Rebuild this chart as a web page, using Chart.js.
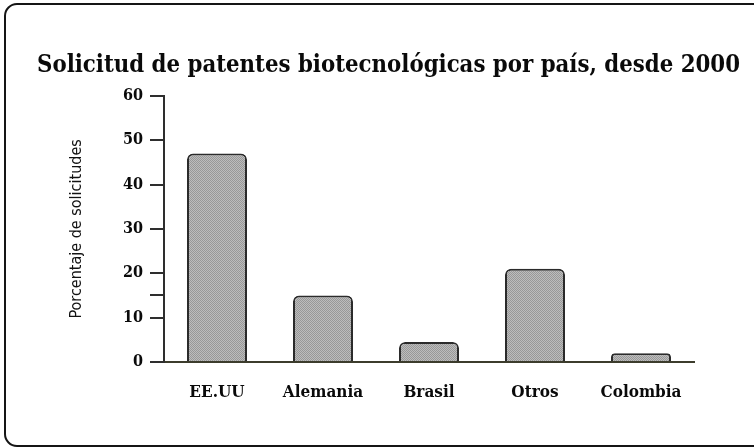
<!DOCTYPE html>
<html>
<head>
<meta charset="utf-8">
<script src="https://cdn.jsdelivr.net/npm/chart.js@4/dist/chart.umd.min.js"></script>
<style>
  html, body { margin: 0; padding: 0; background: #fff; }
  canvas { display: block; }
</style>
</head>
<body>
<canvas id="chart" width="754" height="447"></canvas>
<script>
// Biotech patent applications by country (share of total, %)
const categories = ['EE.UU', 'Alemania', 'Brasil', 'Otros', 'Colombia'];
const percentages = [47, 15, 4.5, 21, 2];
const yTickValues = [0, 10, 15, 20, 30, 40, 50, 60];
const yLabelStep = 10;
const chartTitle = 'Solicitud de patentes biotecnológicas por país, desde 2000';
const yAxisTitle = 'Porcentaje de solicitudes';

// Fine grey stipple used to fill the bars
function stipple(ctx) {
  const tile = document.createElement('canvas');
  tile.width = 2; tile.height = 2;
  const g = tile.getContext('2d');
  g.fillStyle = '#bdbdbd'; g.fillRect(0, 0, 2, 2);
  g.fillStyle = '#989898'; g.fillRect(0, 0, 1, 1); g.fillRect(1, 1, 1, 1);
  return ctx.createPattern(tile, 'repeat');
}

// White background and the rounded frame around the figure
const framePlugin = {
  id: 'frame',
  beforeDraw(chart) {
    const ctx = chart.ctx;
    ctx.save();
    ctx.fillStyle = '#ffffff';
    ctx.fillRect(0, 0, chart.width, chart.height);
    ctx.strokeStyle = '#151515';
    ctx.lineWidth = 2;
    ctx.beginPath();
    ctx.roundRect(5, 4, 770, 442, 12);
    ctx.stroke();
    ctx.restore();
  }
};

const canvas = document.getElementById('chart');
const ctx = canvas.getContext('2d');
const serifBold = 'DejaVu Serif Condensed';

new Chart(ctx, {
  type: 'bar',
  data: {
    labels: categories,
    datasets: [{
      data: percentages,
      backgroundColor: stipple(ctx),
      borderColor: '#2b2b2b',
      borderWidth: 2,
      borderSkipped: 'bottom',
      borderRadius: { topLeft: 6, topRight: 6, bottomLeft: 0, bottomRight: 0 },
      barPercentage: 0.566,
      categoryPercentage: 1
    }]
  },
  options: {
    responsive: false,
    animation: false,
    devicePixelRatio: 1,
    layout: { padding: { left: 37, right: 14, top: 0, bottom: 45 } },
    plugins: {
      legend: { display: false },
      tooltip: { enabled: false },
      title: {
        display: true,
        text: chartTitle,
        color: '#0a0a0a',
        font: { family: serifBold, weight: 'bold', size: 24, lineHeight: 1.2 },
        padding: { top: 51, bottom: 16 }
      }
    },
    scales: {
      x: {
        grid: { display: false },
        border: { display: true, color: '#3c3c2c', width: 2 },
        ticks: {
          color: '#0a0a0a',
          padding: 12,
          font: { family: serifBold, weight: 'bold', size: 17 }
        },
        afterFit(scale) { scale.height = 40; }
      },
      y: {
        min: 0,
        max: 60,
        afterBuildTicks(scale) {
          scale.ticks = yTickValues.map(v => ({ value: v }));
        },
        ticks: {
          color: '#0a0a0a',
          padding: 7,
          font: { family: serifBold, weight: 'bold', size: 16 },
          callback: v => (v % yLabelStep === 0 ? String(v) : '')
        },
        grid: {
          drawOnChartArea: false,
          drawTicks: true,
          tickLength: 14,
          color: '#2e2e2e',
          lineWidth: 2
        },
        border: { display: true, color: '#2e2e2e', width: 2 },
        title: {
          display: true,
          text: yAxisTitle,
          color: '#111111',
          font: { family: 'DejaVu Sans Condensed', size: 16, lineHeight: 1.2 },
          padding: { top: 30, bottom: 0 }
        },
        afterFit(scale) { scale.width = 127; }
      },
      // empty right-hand spacer keeping the plot clear of the frame edge
      y2: {
        position: 'right',
        display: true,
        grid: { display: false },
        border: { display: false },
        ticks: { display: false },
        afterFit(scale) { scale.width = 46; }
      }
    }
  },
  plugins: [framePlugin]
});
</script>
</body>
</html>
